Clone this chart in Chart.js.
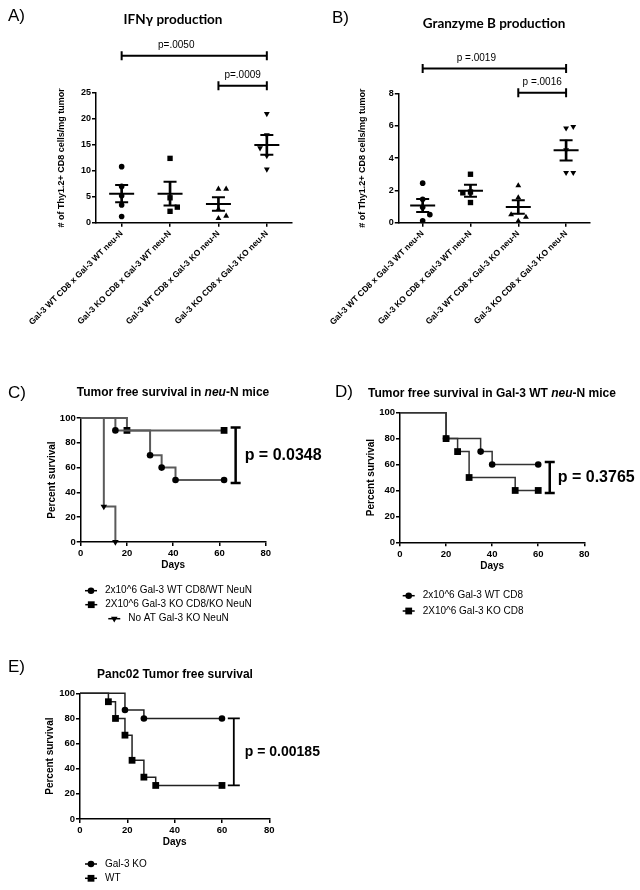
<!DOCTYPE html>
<html>
<head>
<meta charset="utf-8">
<script src="https://cdn.jsdelivr.net/npm/chart.js"></script>
<style>
  html, body { margin: 0; padding: 0; background: #fff; }
  #fig { position: relative; width: 640px; height: 890px; overflow: hidden; font-family: "Liberation Sans", Arial, sans-serif; color: #000; }
  #fig canvas { position: absolute; }
  .lbl { position: absolute; white-space: nowrap; line-height: 1; }
  .letter { font-size: 17px; transform: translateY(-50%); }
  .ttl { transform: translate(-50%, -50%); font-weight: bold; font-size: 12px; }
  .ttl.gp { font-family: Lato, sans-serif; font-size: 13.5px; }
</style>
</head>
<body>
<div id="fig">
  <canvas id="cA" width="320" height="380" style="left:0;top:0"></canvas>
  <canvas id="cB" width="320" height="380" style="left:320px;top:0"></canvas>
  <canvas id="cC" width="340" height="260" style="left:0;top:380px"></canvas>
  <canvas id="cD" width="320" height="260" style="left:320px;top:380px"></canvas>
  <canvas id="cE" width="340" height="250" style="left:0;top:640px"></canvas>

  <div class="lbl letter" style="left:8px;top:15px">A)</div>
  <div class="lbl letter" style="left:332px;top:17px">B)</div>
  <div class="lbl letter" style="left:8px;top:392px">C)</div>
  <div class="lbl letter" style="left:335px;top:391px">D)</div>
  <div class="lbl letter" style="left:8px;top:666px">E)</div>

  <div class="lbl ttl gp" style="left:173px;top:20px">IFNγ production</div>
  <div class="lbl ttl gp" style="left:494px;top:24px">Granzyme B production</div>
  <div class="lbl ttl" style="left:173px;top:392px">Tumor free survival in <i>neu</i>-N mice</div>
  <div class="lbl ttl" style="left:492px;top:393px">Tumor free survival in Gal-3 WT <i>neu</i>-N mice</div>
  <div class="lbl ttl" style="left:175px;top:674px">Panc02 Tumor free survival</div>
</div>

<script>
// groups shared by A and B
const groupLabels = [
  'Gal-3 WT CD8 x Gal-3 WT neu-N',
  'Gal-3 KO CD8 x Gal-3 WT neu-N',
  'Gal-3 WT CD8 x Gal-3 KO neu-N',
  'Gal-3 KO CD8 x Gal-3 KO neu-N'
];

// A) IFNg+ Thy1.2+ CD8 cells / mg tumor
const ifnWtWt = [10.8, 7.0, 5.2, 3.4, 1.2];
const ifnKoWt = [12.4, 4.8, 3.0, 2.2];
const ifnWtKo = [6.5, 6.5, 2.6, 0.85, 1.3];
const ifnKoKo = [21.0, 16.9, 14.4, 12.9, 10.3];
const ifnMean = [5.6, 5.6, 3.6, 15.0];
const ifnSem = [1.65, 2.3, 1.3, 1.9];

// B) Granzyme B+ Thy1.2+ CD8 cells / mg tumor
const gzbWtWt = [2.45, 1.45, 0.95, 0.5, 0.12];
const gzbKoWt = [3.0, 1.85, 1.9, 1.25];
const gzbWtKo = [2.3, 1.55, 0.5, 0.35, 0.1];
const gzbKoKo = [5.85, 5.95, 4.5, 3.1, 3.1];
const gzbMean = [1.07, 1.98, 0.97, 4.48];
const gzbSem = [0.4, 0.37, 0.42, 0.63];

// sideways spread of overlapping dots (category units)
const ifnSpread = [[0, 0, 0, 0, 0], [0, 0, 0.15, 0], [0, 0.16, 0, 0, 0.16], [0, 0, -0.14, 0, 0]];
const gzbSpread = [[0, 0, 0, 0.15, 0], [0, -0.16, 0, 0], [0, 0, -0.15, 0.16, 0], [0, 0.15, 0, 0, 0.15]];

// C) survival in neu-N mice
const cDaysWt = [0, 15, 30, 35, 41, 62];
const cSurvWt = [100, 90, 70, 60, 50, 50];
const cDaysKo = [0, 20, 62];
const cSurvKo = [100, 90, 90];
const cDaysNoAt = [0, 10, 15];
const cSurvNoAt = [100, 28.6, 0];

// D) survival in Gal-3 WT neu-N mice
const dDaysWt = [0, 20, 35, 40, 60];
const dSurvWt = [100, 80, 70, 60, 60];
const dDaysKo = [0, 20, 25, 30, 50, 60];
const dSurvKo = [100, 80, 70, 50, 40, 40];

// E) Panc02
const eDaysKo = [0, 19, 27, 60];
const eSurvKo = [100, 86.7, 80, 80];
const eDaysWt = [0, 12, 15, 19, 22, 27, 32, 60];
const eSurvWt = [100, 93.3, 80, 66.7, 46.7, 33.3, 26.7, 26.7];

Chart.defaults.font.family = '"Liberation Sans", Arial, sans-serif';
Chart.defaults.color = '#000';

const axisGrid = { drawOnChartArea: false, drawTicks: true, tickLength: 4, color: '#000', lineWidth: 1.5 };
const axisBorder = { color: '#000', width: 1.5 };

// p-value brackets above the dot plots
const sigBrackets = {
  id: 'sigBrackets',
  afterDatasetsDraw(chart, args, o) {
    if (!o.items) return;
    const { ctx, scales: { x, y } } = chart;
    ctx.save();
    ctx.strokeStyle = '#000';
    ctx.fillStyle = '#000';
    ctx.lineWidth = 2;
    ctx.font = '10px "Liberation Sans", Arial, sans-serif';
    ctx.textAlign = 'center';
    ctx.textBaseline = 'middle';
    o.items.forEach(b => {
      const x1 = x.getPixelForValue(b.from), x2 = x.getPixelForValue(b.to);
      const py = y.getPixelForValue(b.y);
      ctx.beginPath();
      ctx.moveTo(x1, py - 4.5); ctx.lineTo(x1, py + 4.5);
      ctx.moveTo(x1, py); ctx.lineTo(x2, py);
      ctx.moveTo(x2, py - 4.5); ctx.lineTo(x2, py + 4.5);
      ctx.stroke();
      ctx.fillText(b.label, (x1 + x2) / 2 + (b.dx || 0), py - 10);
    });
    ctx.restore();
  }
};

// bracket + p value beside the survival curves
const kmBracket = {
  id: 'kmBracket',
  afterDatasetsDraw(chart, args, o) {
    if (!o.text) return;
    const { ctx, scales: { x, y } } = chart;
    const px = x.getPixelForValue(o.at);
    const y1 = y.getPixelForValue(o.top) - o.ext;
    const y2 = y.getPixelForValue(o.bottom) + o.ext;
    ctx.save();
    ctx.strokeStyle = '#000';
    ctx.lineWidth = o.lineWidth;
    ctx.beginPath();
    ctx.moveTo(px, y1); ctx.lineTo(px, y2);
    ctx.moveTo(px - o.cap, y1); ctx.lineTo(px + o.cap, y1);
    ctx.moveTo(px - o.cap, y2); ctx.lineTo(px + o.cap, y2);
    ctx.stroke();
    ctx.fillStyle = '#000';
    ctx.font = o.font;
    ctx.textAlign = 'left';
    ctx.textBaseline = 'middle';
    ctx.fillText(o.text, px + o.gap, (y1 + y2) / 2);
    ctx.restore();
  }
};

// GraphPad style legend: one row per series, marker on a short line
const kmLegend = {
  id: 'kmLegend',
  afterDraw(chart, args, o) {
    if (!o.rows) return;
    const ctx = chart.ctx;
    const sets = chart.data.datasets;
    ctx.save();
    ctx.font = '10px "Liberation Sans", Arial, sans-serif';
    const widths = sets.map(d => 20 + ctx.measureText(d.label).width);
    const block = Math.max(...widths);
    sets.forEach((d, i) => {
      const y = o.y + i * o.gap;
      const x0 = o.x + (o.align === 'left' ? 0 : (block - widths[i]) / 2);
      ctx.strokeStyle = '#000';
      ctx.lineWidth = 1.5;
      ctx.beginPath();
      ctx.moveTo(x0, y); ctx.lineTo(x0 + 12, y);
      ctx.stroke();
      ctx.fillStyle = '#000';
      Chart.helpers.drawPoint(ctx, { pointStyle: d.pointStyle, radius: d.legendRadius, rotation: d.pointRotation || 0, borderWidth: 0 }, x0 + 6, y);
      ctx.textAlign = 'left';
      ctx.textBaseline = 'middle';
      ctx.fillText(d.label, x0 + 20, y);
    });
    ctx.restore();
  }
};

Chart.register(sigBrackets, kmBracket, kmLegend);

function dots(values, spread, gi, style, radius, rotation) {
  return {
    type: 'scatter',
    data: values.map((v, k) => ({ x: gi + spread[k], y: v })),
    pointStyle: style,
    pointRadius: radius,
    pointRotation: rotation || 0,
    backgroundColor: '#000',
    borderColor: '#000',
    pointBorderWidth: 0,
    clip: false
  };
}

function errorSets(mean, sem) {
  return [
    {
      type: 'bar',
      data: mean.map((m, i) => ({ x: i, y: [m - sem[i], m + sem[i]] })),
      backgroundColor: '#000',
      borderWidth: 0,
      barThickness: 2
    },
    {
      type: 'scatter',
      data: mean.map((m, i) => ({ x: i, y: m })),
      pointStyle: 'line', pointRadius: 12.5, pointBorderWidth: 2, borderColor: '#000'
    },
    {
      type: 'scatter',
      data: mean.flatMap((m, i) => [{ x: i, y: m - sem[i] }, { x: i, y: m + sem[i] }]),
      pointStyle: 'line', pointRadius: 6.5, pointBorderWidth: 2, borderColor: '#000'
    }
  ];
}

function dotPlot(id, p) {
  return new Chart(document.getElementById(id), {
    type: 'scatter',
    data: {
      datasets: [
        ...errorSets(p.mean, p.sem),
        dots(p.groups[0], p.spread[0], 0, 'circle', 2.8),
        dots(p.groups[1], p.spread[1], 1, 'rect', 3.8),
        dots(p.groups[2], p.spread[2], 2, 'triangle', 3.4),
        dots(p.groups[3], p.spread[3], 3, 'triangle', 3.4, 180)
      ]
    },
    options: {
      responsive: false,
      animation: false,
      events: [],
      layout: { padding: { top: p.top, right: p.right, left: 0, bottom: 0 } },
      plugins: { legend: { display: false }, tooltip: { enabled: false }, sigBrackets: { items: p.brackets } },
      scales: {
        x: {
          type: 'linear', min: p.xMin, max: p.xMax, offset: false,
          afterBuildTicks: s => { s.ticks = groupLabels.map((_, i) => ({ value: i })); },
          afterFit: s => { s.height = p.xHeight; },
          ticks: { autoSkip: false, minRotation: 45, maxRotation: 45, padding: 2, font: { size: 8.5, weight: 'bold' }, callback: v => groupLabels[v] },
          grid: { ...axisGrid, offset: false },
          border: axisBorder
        },
        y: {
          min: 0, max: p.yMax,
          ticks: { stepSize: p.yStep, padding: 1, font: { size: 9, weight: 'bold' } },
          afterFit: s => { s.width = p.yWidth; },
          title: { display: true, text: '# of Thy1.2+ CD8 cells/mg tumor', font: { size: 9, weight: 'bold' }, padding: { top: p.titleX, bottom: 0 } },
          grid: axisGrid,
          border: axisBorder
        }
      }
    }
  });
}

dotPlot('cA', {
  groups: [ifnWtWt, ifnKoWt, ifnWtKo, ifnKoKo], spread: ifnSpread, mean: ifnMean, sem: ifnSem,
  yMax: 25, yStep: 5, xMin: -0.53, xMax: 3.52,
  top: 93, right: 28, xHeight: 157.3, yWidth: 96, titleX: 56.6,
  brackets: [
    { from: 0, to: 3, y: 32.2, label: 'p=.0050', dx: -18 },
    { from: 2, to: 3, y: 26.4, label: 'p=.0009' }
  ]
});

dotPlot('cB', {
  groups: [gzbWtWt, gzbKoWt, gzbWtKo, gzbKoKo], spread: gzbSpread, mean: gzbMean, sem: gzbSem,
  yMax: 8, yStep: 2, xMin: -0.5, xMax: 3.5,
  top: 93.5, right: 50, xHeight: 157.3, yWidth: 76, titleX: 34.6,
  brackets: [
    { from: 0, to: 3, y: 9.55, label: 'p =.0019', dx: -18 },
    { from: 2, to: 3, y: 8.05, label: 'p =.0016' }
  ]
});

function kmChart(id, p) {
  return new Chart(document.getElementById(id), {
    type: 'line',
    data: {
      datasets: p.series.map(s => ({
        label: s.label,
        data: s.days.map((d, k) => ({ x: d, y: s.surv[k] })),
        stepped: true,
        borderColor: p.lineColor,
        borderWidth: p.lineWidth,
        backgroundColor: '#000',
        pointBackgroundColor: '#000',
        pointBorderWidth: 0,
        pointStyle: s.style,
        pointRotation: s.rot || 0,
        pointRadius: c => (c.dataIndex === 0 ? 0 : s.radius),
        legendRadius: s.radius,
        fill: false,
        clip: false,
        order: s.order || 0
      }))
    },
    options: {
      responsive: false,
      animation: false,
      events: [],
      layout: { padding: { top: p.top, right: p.right, left: 0, bottom: p.bottom } },
      plugins: {
        legend: { display: false },
        tooltip: { enabled: false },
        kmBracket: p.bracket,
        kmLegend: p.legend
      },
      scales: {
        x: {
          type: 'linear', min: 0, max: 80,
          afterFit: s => { s.height = p.xHeight; },
          ticks: { stepSize: 20, padding: 2, maxRotation: 0, font: { size: 9.5, weight: 'bold' } },
          title: { display: true, text: 'Days', font: { size: 10, weight: 'bold' }, padding: { top: 0, bottom: p.daysPad } },
          grid: axisGrid,
          border: axisBorder
        },
        y: {
          min: 0, max: 100,
          afterFit: s => { s.width = p.yWidth; },
          ticks: { stepSize: 20, padding: 1, font: { size: 9.5, weight: 'bold' } },
          title: { display: true, text: 'Percent survival', font: { size: 10, weight: 'bold' }, padding: { top: p.titleX, bottom: 0 } },
          grid: axisGrid,
          border: axisBorder
        }
      }
    }
  });
}

kmChart('cC', {
  series: [
    { label: '2x10^6 Gal-3 WT CD8/WT NeuN', days: cDaysWt, surv: cSurvWt, style: 'circle', radius: 3.3 },
    { label: '2X10^6 Gal-3 KO CD8/KO NeuN', days: cDaysKo, surv: cSurvKo, style: 'rect', radius: 4.8 },
    { label: 'No AT Gal-3 KO NeuN', days: cDaysNoAt, surv: cSurvNoAt, style: 'triangle', rot: 180, radius: 3.8 }
  ],
  lineColor: '#5a5a5a', lineWidth: 2,
  top: 38, right: 74.3, bottom: 60, xHeight: 38, yWidth: 80.7, titleX: 46, daysPad: 8.3,
  bracket: { at: 67, top: 90, bottom: 50, ext: 3, cap: 5, lineWidth: 2.5, gap: 9, text: 'p = 0.0348', font: 'bold 16px "Liberation Sans", Arial, sans-serif' },
  legend: { rows: true, align: 'center', x: 85, y: 210.7, gap: 14 }
});

kmChart('cD', {
  series: [
    { label: '2x10^6 Gal-3 WT CD8', days: dDaysWt, surv: dSurvWt, style: 'circle', radius: 3.3, order: 1 },
    { label: '2X10^6 Gal-3 KO CD8', days: dDaysKo, surv: dSurvKo, style: 'rect', radius: 4.8, order: 0 }
  ],
  lineColor: '#333', lineWidth: 1.5,
  top: 32.7, right: 55.7, bottom: 60, xHeight: 37.7, yWidth: 80, titleX: 45.7, daysPad: 7.3,
  bracket: { at: 65, top: 60, bottom: 40, ext: 2.5, cap: 5, lineWidth: 2.5, gap: 8, text: 'p = 0.3765', font: 'bold 16px "Liberation Sans", Arial, sans-serif' },
  legend: { rows: true, align: 'left', x: 82.7, y: 215.7, gap: 15.3 }
});

kmChart('cE', {
  series: [
    { label: 'Gal-3 KO', days: eDaysKo, surv: eSurvKo, style: 'circle', radius: 3.3 },
    { label: 'WT', days: eDaysWt, surv: eSurvWt, style: 'rect', radius: 4.8 }
  ],
  lineColor: '#222', lineWidth: 1.5,
  top: 53.3, right: 70.7, bottom: 40, xHeight: 31, yWidth: 80, titleX: 44, daysPad: 1.3,
  bracket: { at: 65, top: 80, bottom: 26.7, ext: 0, cap: 6, lineWidth: 1.8, gap: 11, text: 'p = 0.00185', font: 'bold 14px "Liberation Sans", Arial, sans-serif' },
  legend: { rows: true, align: 'left', x: 85, y: 224, gap: 14.3 }
});
</script>
</body>
</html>
